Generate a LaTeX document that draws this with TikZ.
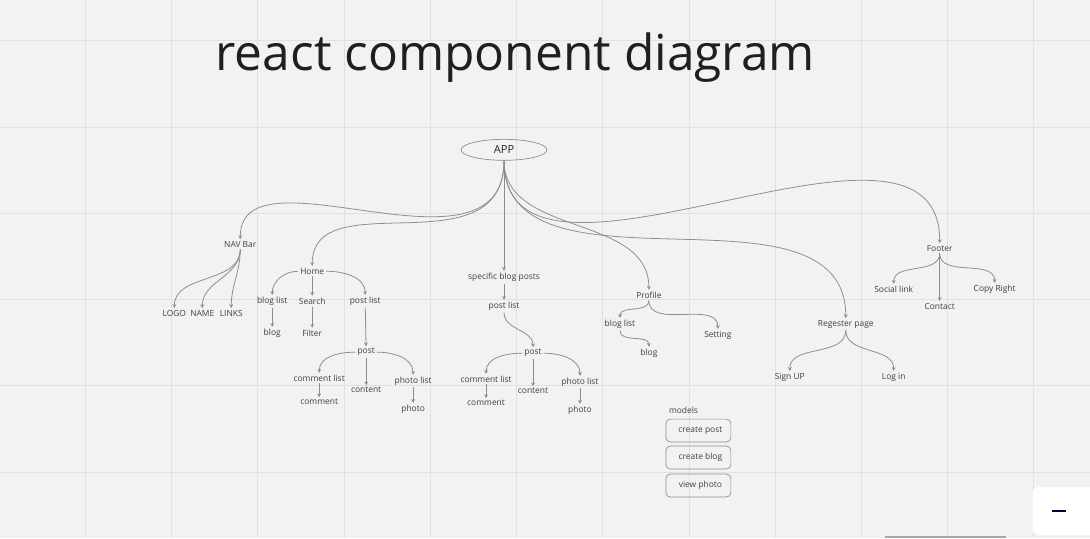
\documentclass[tikz,border=0pt]{standalone}
\usepackage{fontspec}
\setmainfont{Open Sans}
\usetikzlibrary{arrows.meta,shapes.geometric}
\definecolor{boardbg}{HTML}{F2F2F2}
\definecolor{gridln}{HTML}{E1E1E1}
\definecolor{linkgray}{HTML}{8E8E8E}
\definecolor{ctrlnavy}{HTML}{050038}

\begin{document}
\begin{tikzpicture}[
  x=0.02cm, y=-0.02cm, >={Stealth[length=2.2pt,width=2.2pt]},
  lbl/.style={font=\fontsize{4.8}{6}\selectfont, text=black!75, inner sep=1pt},
  modelbox/.style={draw=linkgray, rounded corners=2.5pt, minimum width=1.3cm,
                   minimum height=0.46cm, font=\fontsize{4.8}{6}\selectfont, text=black!75},
  arr/.style={->, linkgray, line width=0.45pt},
  sway/.style={arr, out=-90, in=90},
]
% board with its grid
\fill[boardbg] (0,0) rectangle (1090,538);
\foreach \gx in {0,...,11} \draw[gridln, line width=0.5pt] ({85+86.3*\gx},0) -- ({85+86.3*\gx},538);
\foreach \gy in {0,...,5} \draw[gridln, line width=0.5pt] (0,{40.5+86.3*\gy}) -- (1090,{40.5+86.3*\gy});
\useasboundingbox (0,0) rectangle (1090,538);

\node[anchor=base west, inner sep=0, font=\fontsize{28.3}{34}\selectfont, text=black!88] (title) at (215,70) {react component diagram};

\node[draw=linkgray, ellipse, minimum width=1.72cm, minimum height=0.42cm, inner sep=0,
      font=\fontsize{6.3}{8}\selectfont, text=black!85] (app) at (504,149.5) {APP};

% nav bar
\node[lbl] (nav) at (240,244) {NAV Bar};
\node[lbl] (logo) at (174,313) {LOGO};
\node[lbl] (name) at (202,313) {NAME};
\node[lbl] (links) at (231,313) {LINKS};

% home
\node[lbl] (home) at (312,271) {Home};
\node[lbl] (hbloglist) at (272,301) {blog list};
\node[lbl] (search) at (312,301) {Search};
\node[lbl] (hpostlist) at (365,301) {post list};
\node[lbl] (hblog) at (272,333) {blog};
\node[lbl] (filter) at (312,333) {Filter};
\node[lbl] (hpost) at (366,352) {post};
\node[lbl] (hcomlist) at (319,378) {comment list};
\node[lbl] (hcontent) at (366,390) {content};
\node[lbl] (hphotolist) at (413,381) {photo list};
\node[lbl] (hcomment) at (319,402) {comment};
\node[lbl] (hphoto) at (413,409) {photo};

% specific blog posts
\node[lbl] (specific) at (504,277) {specific blog posts};
\node[lbl] (spostlist) at (504,306) {post list};
\node[lbl] (spost) at (533,353) {post};
\node[lbl] (scomlist) at (486,379) {comment list};
\node[lbl] (scontent) at (533,391) {content};
\node[lbl] (sphotolist) at (580,382) {photo list};
\node[lbl] (scomment) at (486,403) {comment};
\node[lbl] (sphoto) at (580,410) {photo};

% profile
\node[lbl] (profile) at (649,295) {Profile};
\node[lbl] (pbloglist) at (620,324) {blog list};
\node[lbl] (setting) at (718,335) {Setting};
\node[lbl] (pblog) at (649,353) {blog};

% models
\node[lbl, anchor=west] (models) at (667,410) {models};
\node[modelbox] (createpost) at (698.5,430.5) {\hspace{0.08cm}create post};
\node[modelbox] (createblog) at (698.5,457.5) {\hspace{0.08cm}create blog};
\node[modelbox] (viewphoto) at (698.5,485.5) {\hspace{0.08cm}view photo};

% register and footer
\node[lbl] (register) at (846,324) {Regester page};
\node[lbl] (signup) at (790,377) {Sign UP};
\node[lbl] (login) at (894,377) {Log in};
\node[lbl] (footer) at (940,248) {Footer};
\node[lbl] (social) at (894,289) {Social link};
\node[lbl] (contact) at (940,306) {Contact};
\node[lbl] (copyright) at (995,289) {Copy Right};

% from APP
\draw[sway, out looseness=1.2, in looseness=0.9] (app.south) to (nav.north);
\draw[sway, out looseness=1.3] (app.south) to (home.north);
\draw[arr] (app.south) -- (specific.north);
\draw[sway] (app.south) to (profile.north);
\draw[sway] (app.south) to (register.north);
\draw[sway] (app.south) to (footer.north);

\draw[sway] (nav.south) to (logo.north);
\draw[sway] (nav.south) to (name.north);
\draw[sway] (nav.south) to (links.north);

% home branch: side ones leave from the text ends
\draw[arr] (home.west) to[out=180, in=90] (hbloglist.north);
\draw[arr] (home.south) -- (search.north);
\draw[arr] (home.east) to[out=0, in=90] (hpostlist.north);
\draw[arr] (hbloglist) -- (hblog);
\draw[arr] (search) -- (filter);
\draw[arr] (hpostlist) -- (hpost);
\draw[arr] (hpost.west) to[out=180, in=90] (hcomlist.north);
\draw[arr] (hpost) -- (hcontent);
\draw[arr] (hpost.east) to[out=0, in=90] (hphotolist.north);
\draw[arr] (hcomlist) -- (hcomment);
\draw[arr] (hphotolist) -- (hphoto);

\draw[arr] (specific) -- (spostlist);
\draw[sway] (spostlist.south) to (spost.north);
\draw[arr] (spost.west) to[out=180, in=90] (scomlist.north);
\draw[arr] (spost) -- (scontent);
\draw[arr] (spost.east) to[out=0, in=90] (sphotolist.north);
\draw[arr] (scomlist) -- (scomment);
\draw[arr] (sphotolist) -- (sphoto);

\draw[sway] (profile.south) to (pbloglist.north);
\draw[sway] (profile.south) to (setting.north);
\draw[sway] (pbloglist.south) to (pblog.north);

\draw[sway] (register.south) to (signup.north);
\draw[sway] (register.south) to (login.north);

\draw[sway] (footer.south) to (social.north);
\draw[arr] (footer) -- (contact);
\draw[sway] (footer.south) to (copyright.north);

% board controls in the corner
\fill[white, rounded corners=3pt] (1033,487) rectangle (1100,535);
\draw[ctrlnavy, line width=0.04cm] (1052,511) -- (1066,511);
\fill[black!35] (885,535.5) rectangle (1006,538);
\end{tikzpicture}
\end{document}
